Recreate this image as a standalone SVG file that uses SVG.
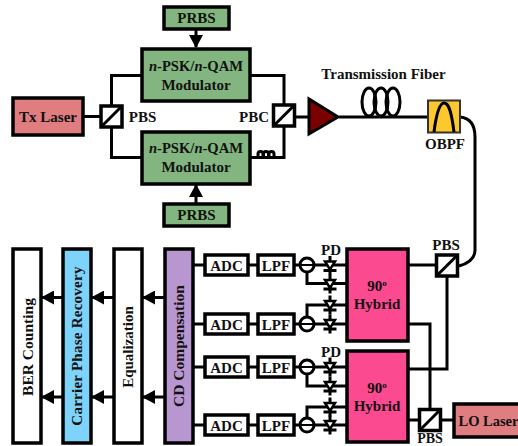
<svg xmlns="http://www.w3.org/2000/svg" width="518" height="446" viewBox="0 0 518 446">
<style>
text{font-family:"Liberation Serif","Times New Roman",serif;font-weight:bold;font-size:15px;fill:#111;text-anchor:middle}
.b{stroke:#000;stroke-width:3.500}
.w{fill:none;stroke:#000;stroke-width:3}
.g{fill:#82b57f}
.r{fill:#e07d80}
.h{fill:#fb4a90}
.n{fill:#fff}
.m{font-size:14.600px}
</style>
<defs>
<marker id="a" markerUnits="userSpaceOnUse" markerWidth="14" markerHeight="14" refX="12" refY="7" orient="auto"><path d="M0 0L13 7L0 14Z" fill="#000"/></marker>
<g id="pbs"><rect x="-10.500" y="-10.500" width="21" height="21" fill="#fff" stroke="#000" stroke-width="3.500"/><path d="M-10 10L10 -10" stroke="#000" stroke-width="3"/></g>
<g id="pd"><path d="M0 -9.500V9.500" stroke="#000" stroke-width="3"/><path d="M-5 -4H5L0 4Z" fill="#fff" stroke="#000" stroke-width="2.500"/><path d="M-6.500 5H6.500" stroke="#000" stroke-width="3"/></g>
<g id="det"><circle r="7" fill="#fff" stroke="#000" stroke-width="3"/><path d="M-6 0H6" stroke="#000" stroke-width="2"/></g>
</defs>
<g id="connectors">
<path class="w" d="M84 116.500H101M111.500 106V75.500H142M111.500 128V157.500H142M250 75.500H284V104M250 157.500H284V127M295 117H309M339 117H428"/>
<path class="w" d="M460 117C470 118 475 125 475 137V250C475 257 470 263 459 266"/>
<path class="w" d="M196 29V47" marker-end="url(#a)"/>
<path class="w" d="M196 204V185" marker-end="url(#a)"/>
<path class="w" d="M164 297.500H143" marker-end="url(#a)"/><path class="w" d="M113 297.500H92" marker-end="url(#a)"/><path class="w" d="M62 297.500H42" marker-end="url(#a)"/>
<path class="w" d="M164 397H143" marker-end="url(#a)"/><path class="w" d="M113 397H92" marker-end="url(#a)"/><path class="w" d="M62 397H42" marker-end="url(#a)"/>
<path class="w" d="M193 265H204M193 324H204M193 367H204M193 425H204M248 265H258M248 324H258M248 367H258M248 425H258M294 265H300M294 324H300M294 367H300M294 425H300"/>
<path class="w" d="M314 265H347M307 272V283.500H347M314 324H347M307 317V305H347M314 367H347M307 374V386H347M314 425H347M307 418V407H347"/>
<path class="w" d="M408 265H436M408 324H430V409M447 276V369H408M408 420H419M441 420H454"/>
</g>
<g id="fiber-coil"><ellipse class="w" cx="369" cy="102" rx="7" ry="14"/><ellipse class="w" cx="381" cy="102" rx="7" ry="14"/><ellipse class="w" cx="393" cy="102" rx="7" ry="14"/></g>
<g id="pm-coil"><path class="w" d="M258 157.500V154a2.500 2.500 0 0 1 5 0V157.500M263.500 157.500V154a2.500 2.500 0 0 1 5 0V157.500M269 157.500V154a2.500 2.500 0 0 1 5 0V157.500"/></g>
<g id="prbs-top"><rect class="b g" x="164" y="7" width="65" height="22"/><text x="196.500" y="22.500">PRBS</text></g>
<g id="mod-top"><rect class="b g" x="142" y="49" width="108" height="52"/><text class="m" x="196" y="71"><tspan font-style="italic">n</tspan>-PSK/<tspan font-style="italic">n</tspan>-QAM</text><text x="196" y="89.500">Modulator</text></g>
<g id="mod-bot"><rect class="b g" x="142" y="132" width="108" height="52"/><text class="m" x="196" y="153"><tspan font-style="italic">n</tspan>-PSK/<tspan font-style="italic">n</tspan>-QAM</text><text x="196" y="172">Modulator</text></g>
<g id="prbs-bot"><rect class="b g" x="164" y="204" width="65" height="22"/><text x="196.500" y="219.500">PRBS</text></g>
<g id="tx"><rect class="b r" x="13" y="98" width="70" height="37"/><text x="48" y="121.500">Tx Laser</text></g>
<g id="pbs1"><use href="#pbs" x="111.500" y="116.500"/><text x="142.500" y="121.500">PBS</text></g>
<g id="pbc"><use href="#pbs" x="284" y="115.500"/><text x="254" y="121.500">PBC</text></g>
<g id="amp"><path d="M309 99V134L338 117Z" fill="#7b0000" stroke="#000" stroke-width="3"/></g>
<g id="fiber-label"><text x="383.500" y="79">Transmission Fiber</text></g>
<g id="obpf"><rect x="428" y="100.500" width="32" height="32" fill="#fcc82e" stroke="#333" stroke-width="2"/><path class="w" d="M434 132C437 108 441 103 444 103C448 103 451 108 454 132"/><text x="445" y="149">OBPF</text></g>
<g id="ber"><rect class="b n" x="13" y="249" width="28" height="194"/><text transform="translate(33 347) rotate(-90)" style="font-size:15.500px">BER Counting</text></g>
<g id="cpr"><rect class="b" fill="#7dd3fa" x="63" y="249" width="28" height="194"/><text transform="translate(81.500 346) rotate(-90)" style="font-size:15px" letter-spacing=".25">Carrier Phase Recovery</text></g>
<g id="eq"><rect class="b n" x="114" y="249" width="28" height="194"/><text transform="translate(132.500 347) rotate(-90)">Equalization</text></g>
<g id="cd"><rect class="b" fill="#b896d0" x="165" y="249" width="28" height="194"/><text transform="translate(183.500 346) rotate(-90)" style="font-size:15.500px">CD Compensation</text></g>
<g id="adc1"><rect class="b n" x="205" y="255" width="43" height="20"/><text x="226.500" y="270.500">ADC</text></g>
<g id="adc2"><rect class="b n" x="205" y="314" width="43" height="20"/><text x="226.500" y="329.500">ADC</text></g>
<g id="adc3"><rect class="b n" x="205" y="357" width="43" height="20"/><text x="226.500" y="372.500">ADC</text></g>
<g id="adc4"><rect class="b n" x="205" y="415" width="43" height="20"/><text x="226.500" y="430.500">ADC</text></g>
<g id="lpf1"><rect class="b n" x="258" y="255" width="36" height="20"/><text x="276" y="270.500">LPF</text></g>
<g id="lpf2"><rect class="b n" x="258" y="314" width="36" height="20"/><text x="276" y="329.500">LPF</text></g>
<g id="lpf3"><rect class="b n" x="258" y="357" width="36" height="20"/><text x="276" y="372.500">LPF</text></g>
<g id="lpf4"><rect class="b n" x="258" y="415" width="36" height="20"/><text x="276" y="430.500">LPF</text></g>
<g id="det1"><use href="#det" x="307" y="265"/></g>
<g id="det2"><use href="#det" x="307" y="324"/></g>
<g id="det3"><use href="#det" x="307" y="367"/></g>
<g id="det4"><use href="#det" x="307" y="425"/></g>
<g id="pds1"><use href="#pd" x="330" y="265.500"/><use href="#pd" x="330" y="284"/><use href="#pd" x="330" y="305"/><use href="#pd" x="330" y="324"/><text x="331" y="254.500">PD</text></g>
<g id="pds2"><use href="#pd" x="330" y="367"/><use href="#pd" x="330" y="386"/><use href="#pd" x="330" y="407"/><use href="#pd" x="330" y="425"/><text x="331" y="357">PD</text></g>
<g id="hyb1"><rect class="b h" x="347" y="249" width="61" height="92"/><text x="377" y="291">90<tspan dy="-5" font-size="9">o</tspan></text><text x="377" y="309">Hybrid</text></g>
<g id="hyb2"><rect class="b h" x="347" y="351" width="61" height="91"/><text x="377" y="393">90<tspan dy="-5" font-size="9">o</tspan></text><text x="377" y="411">Hybrid</text></g>
<g id="pbs2"><use href="#pbs" x="447" y="265.500"/><text x="446" y="250">PBS</text></g>
<g id="pbs3"><use href="#pbs" x="430" y="420"/><text x="430" y="443" style="font-size:14px">PBS</text></g>
<g id="lo"><rect class="b r" x="454" y="404" width="70" height="33"/><text x="488.500" y="425.500" style="font-size:14.500px">LO Laser</text></g>
</svg>
